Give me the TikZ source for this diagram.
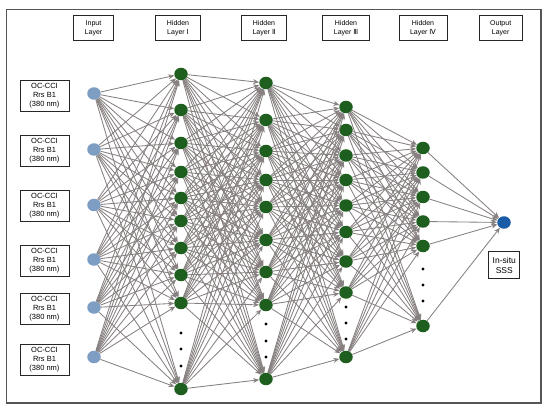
\documentclass[tikz,border=0pt]{standalone}
\usepackage{fontspec}
\setmainfont{Liberation Sans}
\newfontfamily\numfont{DejaVu Sans}
\usetikzlibrary{arrows.meta,shapes.geometric}
\definecolor{frameline}{HTML}{555555}
\definecolor{wire}{HTML}{878080}
\definecolor{hidfill}{HTML}{1E5E1E}
\definecolor{infill}{HTML}{7D9DC2}
\definecolor{outfill}{HTML}{1A5BA6}

\begin{document}
\begin{tikzpicture}[x=1pt, y=-1pt,
  layerbox/.style={draw=black!85, fill=white, line width=0.9pt, inner xsep=11pt,
    inner ysep=2pt, minimum height=25pt, align=center,
    font=\fontsize{7}{9.3}\selectfont},
  inbox/.style={layerbox, inner xsep=2pt, minimum width=49pt, minimum height=31pt,
    font=\fontsize{7.5}{9}\selectfont},
  neuron/.style={ellipse, minimum width=13.5pt, minimum height=12.5pt, inner sep=0pt,
    fill=hidfill},
  inneuron/.style={neuron, fill=infill},
  outneuron/.style={neuron, fill=outfill},
  dotmark/.style={circle, fill=black, inner sep=0pt, minimum size=3.2pt},
  wire/.style={draw=wire, line width=0.85pt, -{Stealth[length=6pt, width=5pt]}}]
  \useasboundingbox (0,0) rectangle (550,412);
  \draw[frameline, line width=1.3pt] (6.5,9.5) rectangle (541,403);

  % layer titles
  \node[layerbox] (hdrin) at (93.5,28.3) {Input\\Layer};
  \node[layerbox] (hdra) at (178,28.3) {Hidden\\Layer {\numfont Ⅰ}};
  \node[layerbox] (hdrb) at (264,28.3) {Hidden\\Layer {\numfont Ⅱ}};
  \node[layerbox] (hdrc) at (346,28.3) {Hidden\\Layer {\numfont Ⅲ}};
  \node[layerbox] (hdrd) at (423,28.3) {Hidden\\Layer {\numfont Ⅳ}};
  \node[layerbox] (hdrout) at (500.7,28.3) {Output\\Layer};

  % inputs
  \foreach \y [count=\k] in {95.7,150.5,205.5,260.5,308.8,359.5}
    \node[inbox] (src\k) at (44.5,\y) {OC-CCI\\Rrs B1\\(380 nm)};
  \foreach \y [count=\k] in {93.5,149.5,205,259.5,307.5,357}
    \node[inneuron] (in\k) at (94,\y) {};

  % hidden layers
  \foreach \y [count=\k] in {74,110,143,172,198,221,248,275,303,389}
    \node[neuron] (ha\k) at (181,\y) {};
  \foreach \y [count=\k] in {333,349,366}
    \node[dotmark] (hadot\k) at (181,\y) {};
  \foreach \y [count=\k] in {83,120,151,180,207,240,272,305,379}
    \node[neuron] (hb\k) at (266,\y) {};
  \foreach \y [count=\k] in {324,341,357}
    \node[dotmark] (hbdot\k) at (266,\y) {};
  \foreach \y [count=\k] in {107,130,155.5,180,205.5,232,261.5,292.5,357}
    \node[neuron] (hc\k) at (346,\y) {};
  \foreach \y [count=\k] in {307,323,339}
    \node[dotmark] (hcdot\k) at (346,\y) {};
  \foreach \y [count=\k] in {148,172.5,197,221.5,246,326}
    \node[neuron] (hd\k) at (423,\y) {};
  \foreach \y [count=\k] in {269,285,301}
    \node[dotmark] (hddot\k) at (423,\y) {};

  % output
  \node[outneuron] (out) at (504,222.5) {};
  \node[layerbox, inner xsep=4pt, minimum height=27pt, font=\fontsize{8.5}{10}\selectfont]
    (target) at (504.3,265.3) {In-situ\\SSS};

  % full connections
  \foreach \i in {1,...,6} \foreach \j in {1,...,10} \draw[wire] (in\i) -- (ha\j);
  \foreach \i in {1,...,10} \foreach \j in {1,...,9} \draw[wire] (ha\i) -- (hb\j);
  \foreach \i in {1,...,9} \foreach \j in {1,...,9} \draw[wire] (hb\i) -- (hc\j);
  \foreach \i in {1,...,9} \foreach \j in {1,...,6} \draw[wire] (hc\i) -- (hd\j);
  \foreach \i in {1,...,6} \draw[wire] (hd\i) -- (out);
\end{tikzpicture}
\end{document}
